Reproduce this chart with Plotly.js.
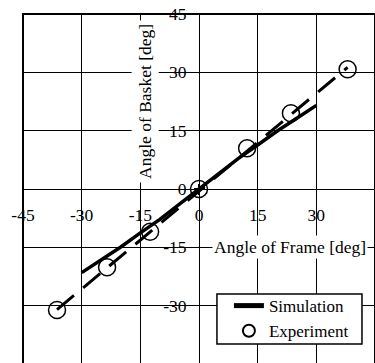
<!DOCTYPE html>
<html>
<head>
<meta charset="utf-8">
<script src="https://cdn.plot.ly/plotly-3.0.1.min.js"></script>
<style>
html,body{margin:0;padding:0;overflow:hidden;background:#fff;}
#chart{width:376px;height:365px;}
</style>
</head>
<body>
<div id="chart"></div>
<script>
// Simulation curve
var simX = [-30, -25, -20, -15, -10, -5, 0, 5, 10, 15, 20, 25, 30];
var simY = [-21.5, -18.2, -14.9, -11.3, -7.8, -3.9, 0, 3.9, 7.8, 11.3, 14.9, 18.2, 21.5];
// Experiment points
var expX = [-36.3, -23.5, -12.5, 0, 12.3, 23.5, 38.0];
var expY = [-31.1, -20.1, -11.0, 0, 10.5, 19.5, 30.8];
// Fitted (dashed) line through experiments
var fitX = [-36.3, 38.0];
var fitY = [-31.0, 31.3];
// Axis ticks
var tickVals = [-45, -30, -15, 0, 15, 30, 45];
var tickText = ['-45', '-30', '-15', '0', '15', '30', '45'];

var font = 'Liberation Serif, serif';
var fs = 17.5;

var traces = [
  {x: fitX, y: fitY, mode: 'lines', type: 'scatter', showlegend: false,
   line: {color: '#000', width: 3, dash: '22px,12px'}, hoverinfo: 'skip'},
  {x: simX, y: simY, mode: 'lines', type: 'scatter', name: 'Simulation',
   line: {color: '#000', width: 3.5}},
  {x: expX, y: expY, mode: 'markers', type: 'scatter', name: 'Experiment',
   marker: {symbol: 'circle-open', size: 17, color: '#000', line: {width: 1.5, color: '#000'}}},
  {x: [], y: [], xaxis: 'x2', yaxis: 'y2', showlegend: false, type: 'scatter'}
];

var axBase = {
  range: [-45, 45], tickmode: 'array', tickvals: tickVals, ticktext: tickText,
  zeroline: false, showline: false, anchor: 'free', position: 0.5,
  tickcolor: '#000', tickwidth: 1.5, ticklen: 5,
  tickfont: {family: font, size: fs, color: '#000'}
};

var layout = {
  width: 376, height: 365,
  margin: {l: 23, r: 1, t: 14, b: 1},
  paper_bgcolor: '#fff', plot_bgcolor: '#fff',
  font: {family: font, size: fs, color: '#000'},
  xaxis: Object.assign({}, axBase, {showgrid: true, gridcolor: '#000', gridwidth: 1,
    ticks: 'outside', ticklabelstandoff: 5}),
  yaxis: Object.assign({}, axBase, {showgrid: true, gridcolor: '#000', gridwidth: 1,
    ticks: 'outside', ticklabelstandoff: 4}),
  xaxis2: Object.assign({}, axBase, {overlaying: 'x', showgrid: false, ticks: 'inside', showticklabels: false}),
  yaxis2: Object.assign({}, axBase, {overlaying: 'y', showgrid: false, ticks: 'inside', showticklabels: false}),
  showlegend: true,
  legend: {x: 0.585, y: 0.217, xanchor: 'left', yanchor: 'top',
    bgcolor: 'rgba(0,0,0,0)', borderwidth: 0,
    font: {family: font, size: 17, color: '#000'}, itemsizing: 'constant'},
  shapes: [
    {type: 'rect', xref: 'paper', yref: 'paper', x0: 0, x1: 1, y0: 0, y1: 1,
     line: {color: '#000', width: 2}, layer: 'above'},
    {type: 'rect', xref: 'paper', yref: 'paper', x0: 0.551, x1: 0.963, y0: 0.057, y1: 0.2,
     fillcolor: '#fff', line: {color: '#000', width: 1.5}, layer: 'above'}
  ],
  annotations: [
    {text: 'Angle of Frame [deg]', xref: 'x', yref: 'y', x: 23.3, y: -14.8,
     showarrow: false, bgcolor: '#fff', borderpad: 1,
     font: {family: font, size: fs, color: '#000'}},
    {text: 'Angle of Basket [deg]', xref: 'x', yref: 'y', x: -13.8, y: 22.4,
     textangle: -90, showarrow: false, bgcolor: '#fff', borderpad: 3,
     font: {family: font, size: fs, color: '#000'}}
  ]
};

Plotly.newPlot('chart', traces, layout, {displayModeBar: false, staticPlot: true});
</script>
</body>
</html>
